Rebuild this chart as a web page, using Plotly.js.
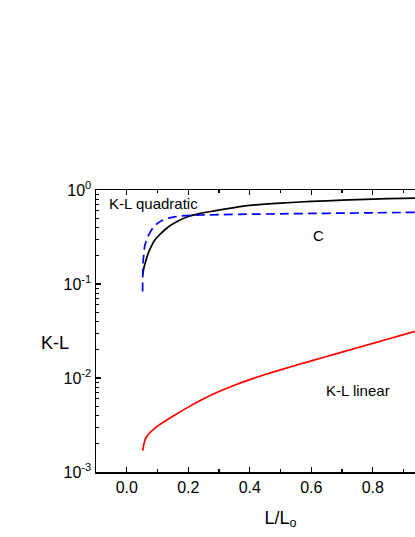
<!DOCTYPE html>
<html>
<head>
<meta charset="utf-8">
<script src="https://cdn.plot.ly/plotly-3.0.1.min.js"></script>
<style>
  html, body { margin: 0; padding: 0; overflow: hidden; background: #fff; }
</style>
</head>
<body>
<div id="chart"></div>
<script>
// K-L quadratic (black solid)
var quadX = [0.052, 0.056, 0.063, 0.07, 0.079, 0.09, 0.106, 0.125, 0.144, 0.17, 0.198, 0.24, 0.285, 0.35, 0.4, 0.5, 0.6, 0.7, 0.8, 0.9, 1.0]
var quadY = [0.125, 0.15, 0.18, 0.213, 0.249, 0.29, 0.332, 0.38, 0.424, 0.475, 0.52, 0.565, 0.60, 0.65, 0.685, 0.725, 0.755, 0.78, 0.80, 0.815, 0.83]

// C (blue dashed)
var cX = [0.0515, 0.052, 0.053, 0.055, 0.058, 0.065, 0.074, 0.085, 0.1, 0.115, 0.133, 0.155, 0.177, 0.21, 0.242, 0.3, 0.4, 0.5, 0.6, 0.7, 0.8, 0.9, 1.0]
var cY = [0.083, 0.12, 0.166, 0.2, 0.249, 0.3, 0.346, 0.395, 0.442, 0.475, 0.5, 0.518, 0.53, 0.538, 0.542, 0.547, 0.553, 0.558, 0.563, 0.567, 0.572, 0.577, 0.58]

// K-L linear (red solid)
var linX = [0.052, 0.056, 0.062, 0.074, 0.09, 0.1, 0.15, 0.2, 0.25, 0.3, 0.35, 0.4, 0.45, 0.5, 0.6, 0.7, 0.8, 0.9, 1.0]
var linY = [0.00169, 0.0020, 0.0023, 0.0026, 0.0029, 0.00308, 0.00392, 0.0049, 0.0060, 0.00717, 0.00838, 0.00962, 0.01089, 0.01222, 0.0152, 0.01884, 0.02333, 0.0289, 0.0358]

// axis ticks
var xTickVals = [0, 0.2, 0.4, 0.6, 0.8]
var xTickText = ['0.0', '0.2', '0.4', '0.6', '0.8']
var yTickVals = [0.001, 0.01, 0.1, 1]
var yTickText = ['10<sup>-3</sup>', '10<sup>-2</sup>', '10<sup>-1</sup>', '10<sup>0</sup>']
var yMinorVals = []
yTickVals.slice(0, 3).forEach(function (d) {
  for (var k = 2; k <= 9; k++) yMinorVals.push(d * k)
})

var font = 'Arial, "Liberation Sans", sans-serif'

var data = [
  {
    type: 'scatter', mode: 'lines', x: quadX, y: quadY,
    line: { color: '#000000', width: 1.7, shape: 'spline', smoothing: 0.6 },
    showlegend: false
  },
  {
    type: 'scatter', mode: 'lines', x: cX, y: cY,
    line: { color: '#0000ff', width: 1.7, dash: '9px,5px', shape: 'spline', smoothing: 0.6 },
    showlegend: false
  },
  {
    type: 'scatter', mode: 'lines', x: linX, y: linY,
    line: { color: '#ff0000', width: 1.7, shape: 'spline', smoothing: 0.5 },
    showlegend: false
  }
]

var layout = {
  width: 485,
  height: 537,
  margin: { l: 96, r: 20, t: 190, b: 65 },
  paper_bgcolor: '#ffffff',
  plot_bgcolor: '#ffffff',
  font: { family: font, size: 16, color: '#000' },
  xaxis: {
    range: [-0.1, 1.1],
    tickmode: 'array', tickvals: xTickVals, ticktext: xTickText,
    ticks: 'inside', ticklen: 5, tickwidth: 1.3, tickcolor: '#000',
    minor: { dtick: 0.1, tick0: 0, ticks: 'inside', ticklen: 3, tickwidth: 1.2, tickcolor: '#000', showgrid: false },
    showline: true, linecolor: '#000', linewidth: 1.5, mirror: 'ticks',
    showgrid: false, zeroline: false,
    tickfont: { size: 16 },
    title: { text: 'L/L<sub>o</sub>', font: { size: 18 }, standoff: 16 }
  },
  yaxis: {
    type: 'log',
    range: [-3, 0],
    tickmode: 'array', tickvals: yTickVals, ticktext: yTickText,
    ticks: 'inside', ticklen: 5, tickwidth: 1.3, tickcolor: '#000',
    minor: { tickmode: 'array', tickvals: yMinorVals, ticks: 'inside', ticklen: 3, tickwidth: 1.2, tickcolor: '#000', showgrid: false },
    showline: true, linecolor: '#000', linewidth: 1.5, mirror: 'ticks',
    showgrid: false, zeroline: false,
    tickfont: { size: 16 }
  },
  annotations: [
    { text: 'K-L', xref: 'paper', yref: 'paper', x: -0.111, y: 0.458, xanchor: 'center', yanchor: 'middle', showarrow: false, font: { size: 18 } },
    { text: 'K-L quadratic', xref: 'x', yref: 'y', x: -0.063, y: Math.log10(0.727), xanchor: 'left', yanchor: 'middle', showarrow: false, font: { size: 15 } },
    { text: 'C', xref: 'x', yref: 'y', x: 0.624, y: Math.log10(0.332), xanchor: 'center', yanchor: 'middle', showarrow: false, font: { size: 15 } },
    { text: 'K-L linear', xref: 'x', yref: 'y', x: 0.64, y: Math.log10(0.00745), xanchor: 'left', yanchor: 'middle', showarrow: false, font: { size: 15 } }
  ]
}

Plotly.newPlot('chart', data, layout, { staticPlot: true, displayModeBar: false })
</script>
</body>
</html>
